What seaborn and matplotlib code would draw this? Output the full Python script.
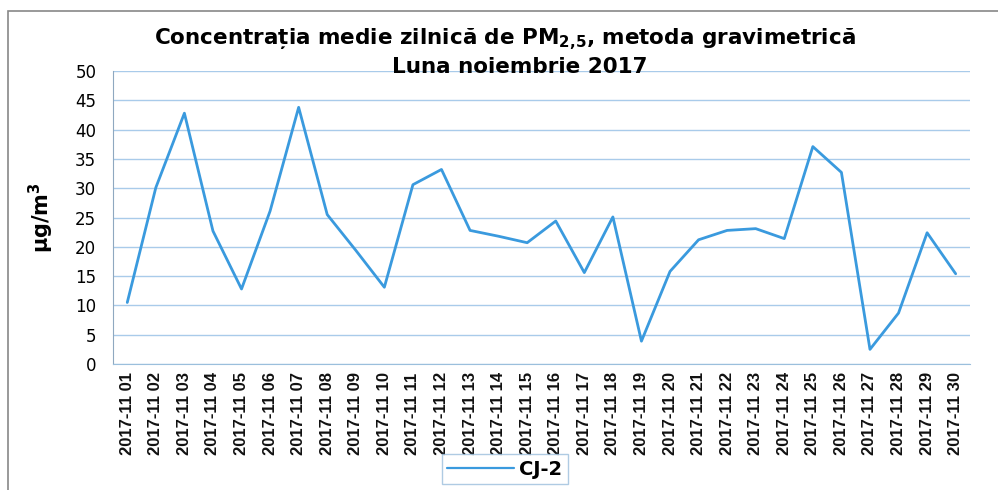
import numpy as np
import pandas as pd
import seaborn as sns
import matplotlib.pyplot as plt
from matplotlib.ticker import FixedLocator
from matplotlib.patches import Rectangle

days = [f"2017-11 {d:02d}" for d in range(1, 31)]
cj2 = [10.5, 30.1, 42.8, 22.7, 12.8, 26.1, 43.8, 25.5, 19.4, 13.1,
       30.6, 33.2, 22.8, 21.8, 20.7, 24.4, 15.6, 25.1, 3.9, 15.8,
       21.2, 22.8, 23.1, 21.4, 37.1, 32.7, 2.5, 8.7, 22.4, 15.4]
yticks = [0, 5, 10, 15, 20, 25, 30, 35, 40, 45, 50]

line_color = "#3a9ade"
grid_color = "#a9cbea"

df = pd.DataFrame({"day": days, "value": cj2})

sns.set_style("white")
plt.rcParams["font.family"] = ["Liberation Sans", "DejaVu Sans"]
plt.rcParams["text.color"] = "black"
plt.rcParams["mathtext.fontset"] = "custom"
plt.rcParams["mathtext.rm"] = "DejaVu Sans:bold"
plt.rcParams["mathtext.it"] = "DejaVu Sans:bold"

fig = plt.figure(figsize=(9.98, 4.9), dpi=100)
ax = fig.add_axes([0.1132, 0.2571, 0.8587, 0.598])

sns.lineplot(data=df, x="day", y="value", ax=ax, color=line_color,
             linewidth=2.0, label="CJ-2", sort=False)

ax.set_xlim(-0.5, len(days) - 0.5)
ax.set_ylim(0, 50)
ax.set_yticks(yticks)
ax.set_yticklabels([str(v) for v in yticks], fontsize=12, family="DejaVu Sans",
                   color="black")
ax.yaxis.grid(True, color=grid_color, linewidth=1.0)
ax.xaxis.grid(False)

ax.set_xticks(range(len(days)))
ax.set_xticklabels(days, rotation=90, fontsize=12, fontweight="bold",
                   color="#111111")
ax.xaxis.set_minor_locator(FixedLocator(np.arange(-0.5, len(days), 1)))
ax.tick_params(axis="x", which="major", length=0, pad=6)
ax.tick_params(axis="x", which="minor", length=4, color="#9bbfdc", direction="out")
ax.tick_params(axis="y", length=4, color="#9bbfdc", direction="out", pad=8)

for side in ["top", "right"]:
    ax.spines[side].set_visible(False)
ax.spines["left"].set_color("#8fa8c0")
ax.spines["bottom"].set_color("#9bbfdc")

ax.set_xlabel("")
ax.set_ylabel("µg/m$^3$", fontsize=15, fontweight="bold", labelpad=14,
              family="DejaVu Sans", color="black")

fig.text(0.506, 1 - 39 / 490, "Concentrația medie zilnică de PM$_{2{,}5}$, metoda gravimetrică",
         ha="center", va="center", fontsize=15.5, fontweight="bold",
         family="DejaVu Sans")
fig.text(0.521, 1 - 67 / 490, "Luna noiembrie 2017", ha="center", va="center",
         fontsize=15.5, fontweight="bold", family="DejaVu Sans")

leg = ax.legend(loc="center", bbox_to_anchor=(0.506, 1 - 469 / 490),
                bbox_transform=fig.transFigure, frameon=True, fancybox=False,
                prop={"size": 14, "weight": "bold", "family": "DejaVu Sans"},
                handlelength=3.4, borderpad=0.3, handletextpad=0.3)
leg.get_frame().set_edgecolor("#9bbfdc")
leg.get_frame().set_linewidth(1.0)
for line in leg.get_lines():
    line.set_linewidth(1.6)

fig.patches.append(Rectangle((8 / 998, -0.1), 1.2, 1 - 11 / 490 + 0.1,
                             transform=fig.transFigure, fill=False,
                             edgecolor="#888888", linewidth=1.2))

fig.savefig("out.png", dpi=100)
